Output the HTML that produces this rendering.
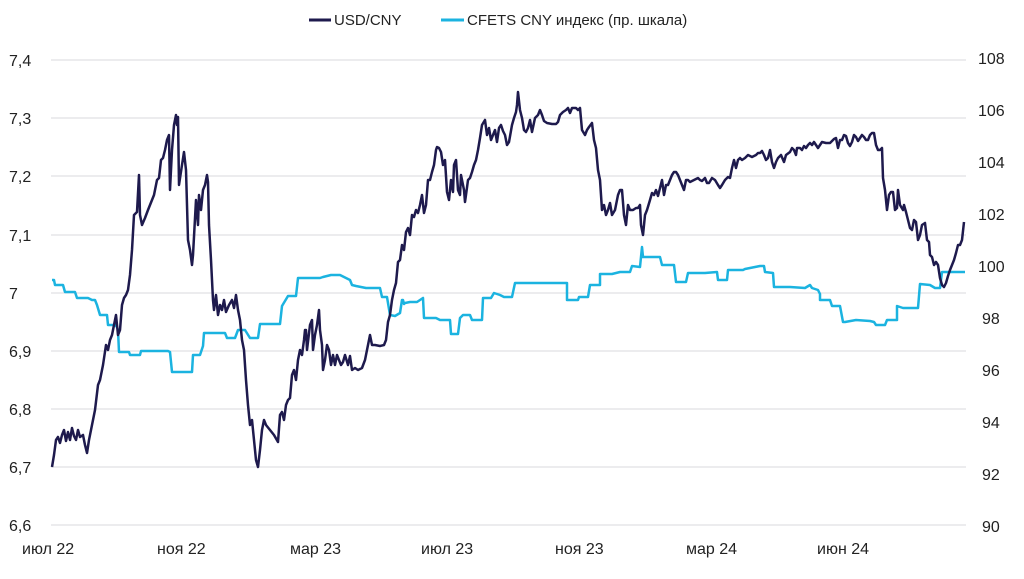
<!DOCTYPE html>
<html><head><meta charset="utf-8"><style>
body{margin:0;background:#fff}
svg{display:block;font-family:"Liberation Sans",sans-serif;}
</style></head><body>
<svg width="1024" height="579" viewBox="0 0 1024 579" xmlns="http://www.w3.org/2000/svg">
<g stroke="#d9d9de" stroke-width="1">
<line x1="51" x2="966" y1="60" y2="60"/><line x1="51" x2="966" y1="118" y2="118"/><line x1="51" x2="966" y1="176" y2="176"/><line x1="51" x2="966" y1="235" y2="235"/><line x1="51" x2="966" y1="293" y2="293"/><line x1="51" x2="966" y1="351" y2="351"/><line x1="51" x2="966" y1="409" y2="409"/><line x1="51" x2="966" y1="467" y2="467"/><line x1="51" x2="966" y1="525" y2="525"/>
</g>
<g font-size="16" fill="#222">
<text x="9" y="66">7,4</text><text x="9" y="124">7,3</text><text x="9" y="182">7,2</text><text x="9" y="241">7,1</text><text x="9" y="299">7</text><text x="9" y="357">6,9</text><text x="9" y="415">6,8</text><text x="9" y="473">6,7</text><text x="9" y="531">6,6</text>
<text x="978" y="64">108</text><text x="978" y="116">106</text><text x="978" y="168">104</text><text x="978" y="220">102</text><text x="978" y="272">100</text><text x="982" y="324">98</text><text x="982" y="376">96</text><text x="982" y="428">94</text><text x="982" y="480">92</text><text x="982" y="532">90</text>
<text x="22" y="554">июл 22</text><text x="157" y="554">ноя 22</text><text x="290" y="554">мар 23</text><text x="421" y="554">июл 23</text><text x="555" y="554">ноя 23</text><text x="686" y="554">мар 24</text><text x="817" y="554">июн 24</text>
</g>
<g font-size="15" fill="#222">
<line x1="309" x2="331" y1="20" y2="20" stroke="#1e1a4d" stroke-width="3"/><text x="334" y="25">USD/CNY</text>
<line x1="441" x2="464" y1="20" y2="20" stroke="#1bb3e0" stroke-width="3"/><text x="467" y="25">CFETS CNY индекс (пр. шкала)</text>
</g>
<polyline fill="none" stroke="#1bb3e0" stroke-width="2.5" stroke-linejoin="round" points="52,280 54,280 55,285 63,285 65,292 75,292 77,298 88,298 92,300 95,300 97,305 100,315 103,315 107,315 108,325 115,325 117,327 118,330 119,352 129,352 130,355 140,355 141,351 157,351 168,351 170,352 172,372 192,372 193,355 200,355 203,346 204,333 225,333 227,338 235,338 238,330 245,330 250,338 258,338 260,324 275,324 280,324 282,306 288,296 296,296 298,278 316,278 320,278 323,277 331,275 340,275 350,280 352,285 356,286 366,288 380,288 382,297 387,297 390,315 395,316 400,313 402,300 403,300 404,304 405,303 410,302 417,302 423,298 424,318 436,318 440,320 450,320 451,334 458,334 460,318 463,315 470,315 472,320 482,320 483,298 491,298 494,293 500,295 504,297 512,297 515,283 567,283 567,300 578,300 579,297 588,297 590,285 600,285 600,274 612,274 620,272 630,272 632,266 640,267 642,247 643,257 660,257 662,265 674,265 676,282 686,282 688,273 705,273 717,272 718,280 727,280 728,270 743,270 745,269 760,266 764,266 765,272 773,273 774,287 790,287 805,288 810,285 812,288 818,290 820,294 820,300 830,300 832,306 840,306 843,322 845,322 856,320 870,321 874,322 876,325 885,325 887,320 897,320 897,306 903,308 918,308 920,284 930,285 935,288 940,288 942,272 965,272"/>
<polyline fill="none" stroke="#1e1a4d" stroke-width="2.5" stroke-linejoin="round" points="52,467 54,455 56,440 58,437 60,443 62,435 64,430 66,441 68,432 70,440 72,428 74,436 76,440 78,430 80,437 83,435 85,445 87,453 89,440 92,425 95,410 98,385 100,380 103,365 106,345 108,350 110,340 112,335 114,325 116,315 118,335 120,330 122,305 124,298 126,295 128,290 130,275 132,250 134,215 137,212 139,175 140,215 142,225 145,218 148,210 152,200 154,195 157,180 159,178 161,160 163,158 165,150 167,140 169,135 170,190 172,150 174,125 176,115 177,125 178,117 179,185 182,165 184,152 186,170 188,240 190,250 192,265 193,255 196,200 198,225 199,195 201,210 203,190 205,185 207,175 208,182 209,225 211,260 213,300 214,310 216,295 218,315 220,305 222,310 224,300 226,312 229,305 232,300 234,308 236,295 238,310 240,320 242,340 244,350 246,380 248,405 250,425 252,420 254,440 256,460 258,467 260,450 262,430 264,420 266,425 270,430 274,435 278,442 280,415 282,412 284,420 286,405 288,400 290,398 292,375 294,370 296,380 298,360 300,350 302,355 304,340 305,330 306,330 307,350 310,325 312,320 313,350 315,335 317,325 319,310 320,330 322,345 323,370 325,360 327,345 329,350 331,365 333,355 335,365 337,355 339,360 341,365 343,362 345,355 348,365 350,356 352,370 355,368 358,370 362,368 365,360 368,345 370,335 372,345 375,345 380,346 384,345 386,340 388,322 390,315 392,300 394,290 396,283 398,262 400,260 402,245 404,250 406,232 408,228 410,235 412,215 414,217 416,210 418,213 420,205 422,195 424,213 426,205 428,180 430,180 432,172 434,165 436,150 437,147 439,148 441,152 443,165 445,160 447,192 449,200 451,180 453,192 454,165 456,160 458,190 460,195 461,175 464,190 465,202 466,195 468,180 470,178 472,172 474,165 476,160 478,150 480,138 482,125 485,120 487,135 489,128 491,140 493,135 495,130 497,142 499,128 501,125 503,131 505,135 507,145 509,142 512,125 514,118 516,112 517,105 518,92 520,110 522,118 524,130 526,132 528,128 530,120 532,132 535,118 538,115 540,110 542,115 544,121 547,123 552,124 556,124 558,122 560,115 563,112 566,110 568,108 570,113 572,108 576,108 578,110 580,108 582,130 585,135 587,130 589,127 592,123 594,140 596,148 598,170 600,180 602,210 604,205 606,215 608,210 610,203 612,215 615,210 618,195 620,190 622,190 624,215 626,225 628,205 630,210 633,210 636,208 638,208 640,205 641,225 643,235 645,215 647,210 650,200 652,193 654,195 656,190 658,196 660,188 662,180 664,195 666,185 668,185 670,180 672,175 674,172 676,172 678,175 680,180 682,185 684,190 686,180 688,180 690,182 694,180 698,178 700,180 702,181 705,178 707,183 709,183 712,178 715,180 718,185 720,188 722,185 725,180 728,177 730,178 732,168 734,160 736,168 738,160 740,158 742,160 745,158 748,155 752,157 756,155 758,153 760,153 762,151 764,155 766,160 768,158 770,150 772,162 774,168 776,162 778,158 781,155 784,162 786,155 790,152 792,148 794,150 796,155 797,148 800,148 802,150 804,146 806,148 808,145 810,143 812,145 814,142 816,145 818,148 820,145 822,142 826,143 830,143 834,139 836,138 838,148 840,140 842,140 844,135 846,136 848,143 850,146 852,142 854,135 856,137 858,141 860,138 862,135 864,137 866,140 868,140 870,135 872,133 874,133 876,145 878,150 880,150 882,148 883,178 885,190 887,210 889,195 891,192 893,192 895,210 897,208 898,190 900,205 903,210 904,205 906,212 908,220 910,228 912,230 914,220 916,222 918,240 920,235 922,225 925,223 927,240 929,242 930,255 932,257 934,265 936,262 938,265 940,278 942,285 944,287 946,283 948,276 950,270 952,265 954,260 956,253 958,245 960,245 962,240 964,222"/>
</svg>
</body></html>
